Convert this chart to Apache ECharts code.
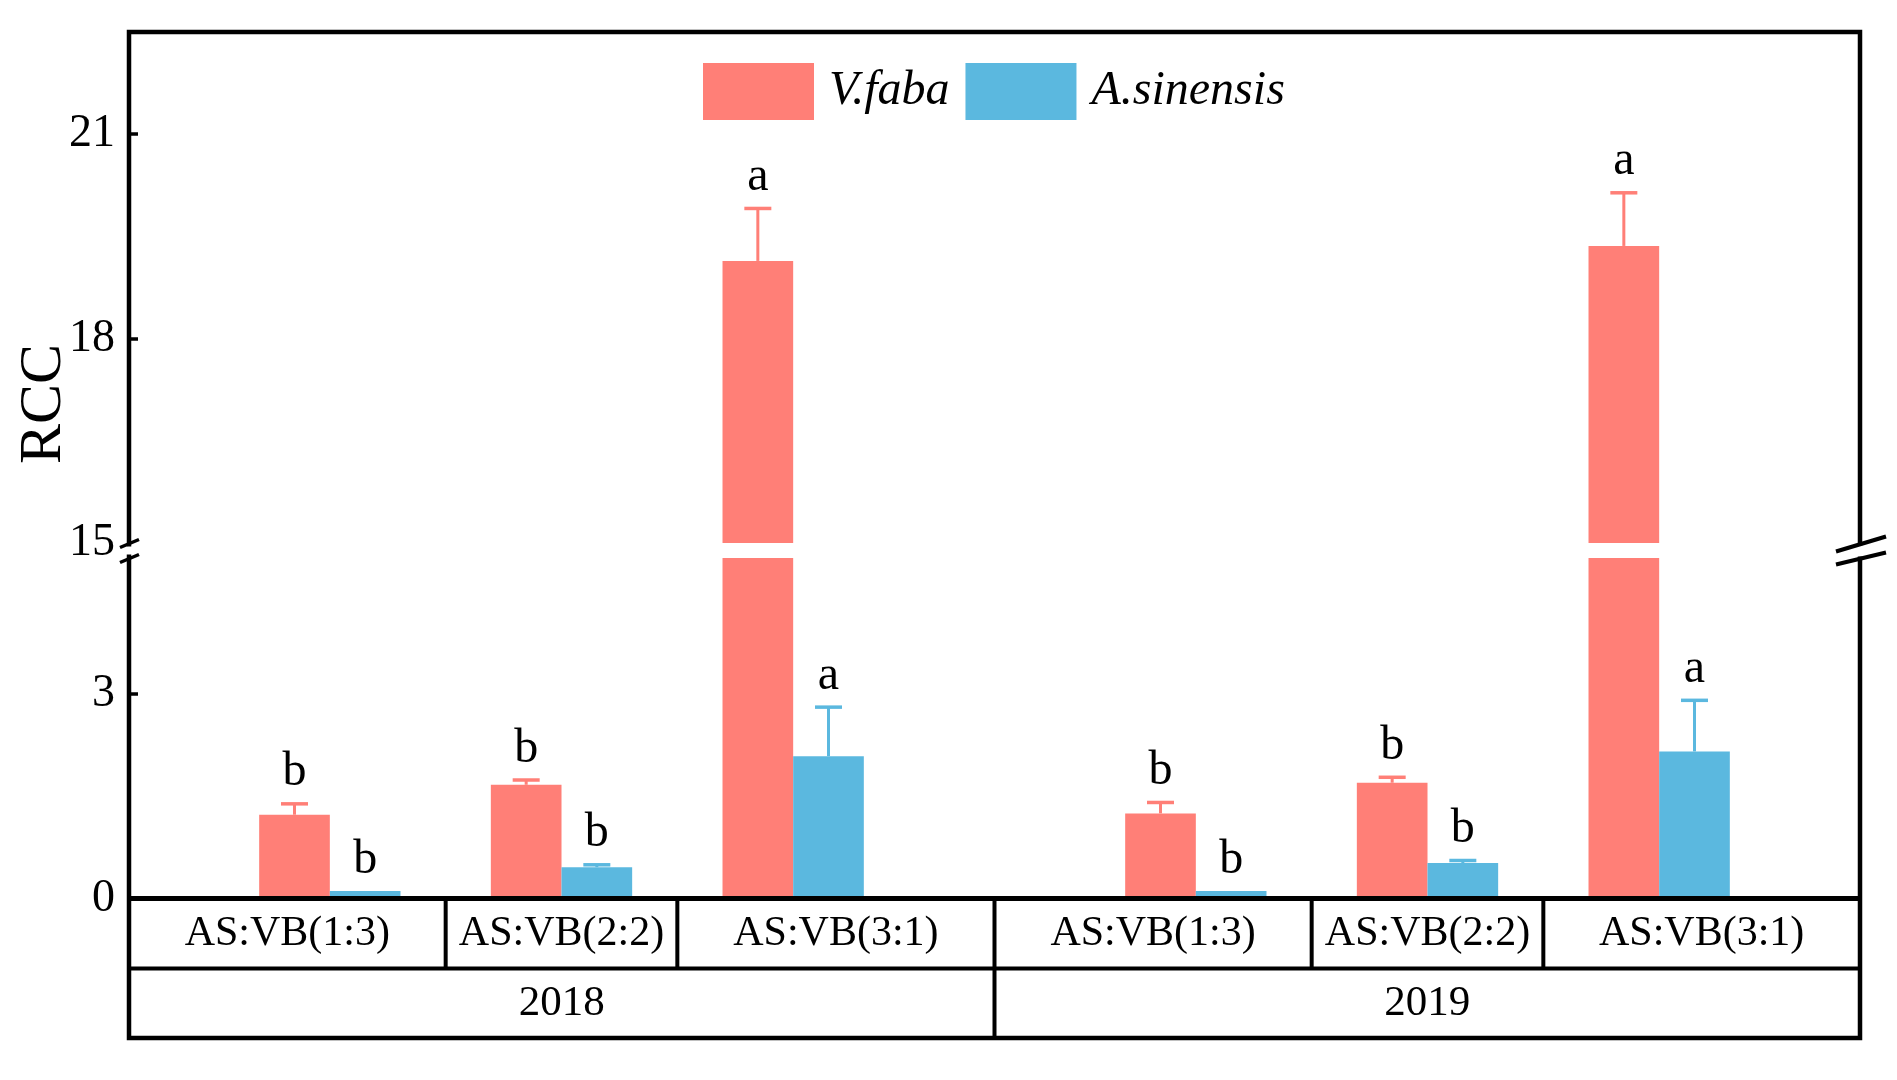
<!DOCTYPE html>
<html>
<head>
<meta charset="utf-8">
<script src="https://cdn.jsdelivr.net/npm/echarts@6/dist/echarts.min.js"></script>
<style>html,body{margin:0;padding:0;background:#fff;}#main{width:1897px;height:1080px;}</style>
</head>
<body>
<div id="main"></div>
<script>
// ---------- data ----------
const categories = ['AS:VB(1:3)', 'AS:VB(2:2)', 'AS:VB(3:1)'];
const years = ['2018', '2019'];
const seriesNames = ['V.faba', 'A.sinensis'];
const faba2018 = [1.23, 1.67, 19.14];
const fabaSE2018 = [0.16, 0.07, 0.77];
const sinensis2018 = [0.11, 0.46, 2.09];
const sinensisSE2018 = [0, 0.035, 0.72];
const faba2019 = [1.25, 1.70, 19.36];
const fabaSE2019 = [0.16, 0.08, 0.78];
const sinensis2019 = [0.11, 0.52, 2.16];
const sinensisSE2019 = [0, 0.038, 0.75];
const fabaLetters2018 = ['b', 'b', 'a'];
const sinensisLetters2018 = ['b', 'b', 'a'];
const fabaLetters2019 = ['b', 'b', 'a'];
const sinensisLetters2019 = ['b', 'b', 'a'];
const upperTicks = [15, 18, 21];
const lowerTicks = [0, 3];
const upperRange = [15, 22.5];
const lowerRange = [0, 5];

// ---------- styling / layout ----------
const RED = '#FF7F77', BLUE = '#5BB8DF';
const FONT = '"Liberation Serif", "Times New Roman", serif';
const FRAME = { left: 129, top: 32, right: 1860, bottom: 1038 };
const ZERO_Y = 898.5, ROW_Y = 968.5;
const UPPER = { top: 32, bottom: 543 };
const LOWER = { top: 558, bottom: 898.5 };
const YEAR_GRIDS = [{ left: 214, width: 695 }, { left: 1080, width: 695 }];
const BAR_FRAC = 0.305;

const yearData = [
  { faba: faba2018, fabaSE: fabaSE2018, sin: sinensis2018, sinSE: sinensisSE2018, fL: fabaLetters2018, sL: sinensisLetters2018 },
  { faba: faba2019, fabaSE: fabaSE2019, sin: sinensis2019, sinSE: sinensisSE2019, fL: fabaLetters2019, sL: sinensisLetters2019 }
];

const chart = echarts.init(document.getElementById('main'));

const grids = [], xAxes = [], yAxes = [], series = [];
YEAR_GRIDS.forEach((yg, g) => {
  [[UPPER, upperRange, upperTicks], [LOWER, lowerRange, lowerTicks]].forEach(([seg, range, ticks], s) => {
    const gi = grids.length;
    grids.push({ left: yg.left, width: yg.width, top: seg.top, height: seg.bottom - seg.top, containLabel: false });
    xAxes.push({ type: 'category', gridIndex: gi, data: categories, show: false });
    yAxes.push({
      type: 'value', gridIndex: gi, min: range[0], max: range[1],
      show: g === 0, offset: yg.left - FRAME.left,
      axisLine: { show: false },
      axisTick: { show: true, inside: true, length: 9, lineStyle: { color: '#000', width: 3.5 }, customValues: ticks.filter(t => t > range[0]) },
      axisLabel: { customValues: ticks, fontSize: 46, fontFamily: FONT, color: '#000', margin: 14 },
      splitLine: { show: false }
    });
    const d = yearData[g];
    series.push({
      type: 'bar', name: seriesNames[0], xAxisIndex: gi, yAxisIndex: gi, data: d.faba,
      barWidth: (BAR_FRAC * 100) + '%', barGap: '0%', itemStyle: { color: RED }, clip: true
    });
    series.push({
      type: 'bar', name: seriesNames[1], xAxisIndex: gi, yAxisIndex: gi, data: d.sin,
      barWidth: (BAR_FRAC * 100) + '%', barGap: '0%', itemStyle: { color: BLUE }, clip: true
    });
    [[d.faba, d.fabaSE, d.fL, -1, RED, 'err-faba'], [d.sin, d.sinSE, d.sL, 1, BLUE, 'err-sin']].forEach(([vals, ses, letters, side, color, nm]) => {
      series.push({
        type: 'custom', name: nm + gi, xAxisIndex: gi, yAxisIndex: gi,
        data: vals.map((v, i) => [i, v, ses[i]]),
        renderItem: function (params, api) {
          const idx = api.value(0), mean = api.value(1), se = api.value(2);
          const top = mean + se;
          if (top < range[0] || top > range[1]) return null;
          const band = api.size([1, 0])[0];
          const base = api.coord([idx, mean]);
          const x = base[0] + side * band * BAR_FRAC / 2;
          const y0 = base[1];
          const y1 = api.coord([idx, top])[1];
          const children = [];
          if (se > 0) {
            children.push({ type: 'line', shape: { x1: x, y1: y0, x2: x, y2: y1 }, style: { stroke: color, lineWidth: 3 } });
            children.push({ type: 'line', shape: { x1: x - 13.5, y1: y1, x2: x + 13.5, y2: y1 }, style: { stroke: color, lineWidth: 3.5 } });
          }
          children.push({ type: 'text', style: { text: letters[params.dataIndex], x: x, y: y1 - 31, align: 'center', verticalAlign: 'middle', font: '48px ' + FONT, fill: '#000' } });
          return { type: 'group', children: children };
        },
        z: 5
      });
    });
  });
});

// ---------- table / frame decoration ----------
const midX = (YEAR_GRIDS[0].left + YEAR_GRIDS[0].width + YEAR_GRIDS[1].left) / 2;
const graphic = [];
const L = (x1, y1, x2, y2, w) => ({ type: 'line', shape: { x1, y1, x2, y2 }, style: { stroke: '#000', lineWidth: w }, z: 50 });
graphic.push({ type: 'rect', shape: { x: FRAME.left, y: FRAME.top, width: FRAME.right - FRAME.left, height: FRAME.bottom - FRAME.top }, style: { fill: null, stroke: '#000', lineWidth: 4.5 }, z: 50 });
graphic.push(L(FRAME.left, ZERO_Y, FRAME.right, ZERO_Y, 5));
graphic.push(L(FRAME.left, ROW_Y, FRAME.right, ROW_Y, 4));
graphic.push(L(midX, ZERO_Y, midX, FRAME.bottom, 4));
YEAR_GRIDS.forEach((yg, g) => {
  const slot = yg.width / categories.length;
  const bounds = [g === 0 ? FRAME.left : midX];
  for (let k = 1; k < categories.length; k++) {
    const bx = yg.left + slot * k;
    bounds.push(bx);
    graphic.push(L(bx, ZERO_Y, bx, ROW_Y, 4));
  }
  bounds.push(g === 0 ? midX : FRAME.right);
  categories.forEach((c, i) => {
    graphic.push({ type: 'text', z: 50, style: { text: c, x: (bounds[i] + bounds[i + 1]) / 2, y: (ZERO_Y + ROW_Y) / 2, align: 'center', verticalAlign: 'middle', font: '42px ' + FONT, fill: '#000' } });
  });
  graphic.push({ type: 'text', z: 50, style: { text: years[g], x: (bounds[0] + bounds[bounds.length - 1]) / 2, y: (ROW_Y + FRAME.bottom) / 2, align: 'center', verticalAlign: 'middle', font: '43px ' + FONT, fill: '#000' } });
});
// axis break marks
const breakY = (UPPER.bottom + LOWER.top) / 2;
graphic.push({ type: 'rect', z: 60, shape: { x: FRAME.left - 4, y: breakY - 4, width: 8, height: 8 }, style: { fill: '#fff' } });
graphic.push(L(FRAME.left - 9, breakY - 3, FRAME.left + 10, breakY - 11, 3.5));
graphic.push(L(FRAME.left - 9, breakY + 12, FRAME.left + 10, breakY + 4, 3.5));
graphic.push({ type: 'rect', z: 60, shape: { x: FRAME.right - 4, y: breakY - 5, width: 8, height: 11 }, style: { fill: '#fff' } });
graphic.push(L(FRAME.right - 24, breakY + 1, FRAME.right + 26, breakY - 14, 4));
graphic.push(L(FRAME.right - 24, breakY + 14, FRAME.right + 26, breakY + 2, 4));
graphic.forEach(gr => { if (gr.type === 'line') gr.z = 61; });
// y axis title
graphic.push({ type: 'text', z: 50, x: 44, y: 404, rotation: Math.PI / 2, style: { text: 'RCC', x: 0, y: 0, align: 'center', verticalAlign: 'middle', font: '60px ' + FONT, fill: '#000' } });

chart.setOption({
  animation: false,
  backgroundColor: '#fff',
  legend: {
    data: seriesNames, left: 703, top: 63, padding: 0,
    icon: 'rect', itemWidth: 111, itemHeight: 57, itemGap: 16,
    textStyle: { fontSize: 48, fontStyle: 'italic', fontFamily: FONT, color: '#000', padding: [0, 0, 0, 10] }
  },
  grid: grids, xAxis: xAxes, yAxis: yAxes, series: series, graphic: graphic
});
</script>
</body>
</html>
